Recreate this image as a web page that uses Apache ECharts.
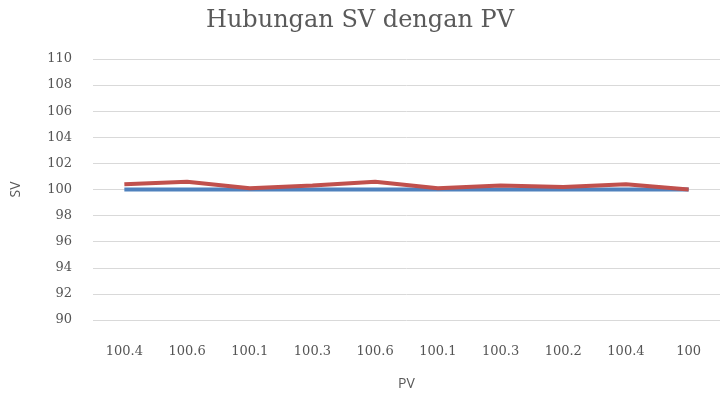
<!DOCTYPE html>
<html>
<head>
<meta charset="utf-8">
<script src="https://cdn.jsdelivr.net/npm/echarts@6/dist/echarts.min.js"></script>
<style>
  html, body { margin: 0; padding: 0; background: #fff; }
  #chart { width: 720px; height: 400px; }
</style>
</head>
<body>
<div id="chart"></div>
<script>
var pvLabels = ['100.4', '100.6', '100.1', '100.3', '100.6', '100.1', '100.3', '100.2', '100.4', '100'];
var svValues = [100, 100, 100, 100, 100, 100, 100, 100, 100, 100];
var pvValues = [100.4, 100.6, 100.1, 100.3, 100.6, 100.1, 100.3, 100.2, 100.4, 100];

var myChart = echarts.init(document.getElementById('chart'));

var option = {
    animation: false,
    title: {
        text: 'Hubungan SV dengan PV',
        left: 'center',
        top: 4,
        textStyle: {
            fontFamily: 'DejaVu Serif',
            fontWeight: 'normal',
            fontSize: 24,
            color: '#5a5a5a'
        }
    },
    grid: {
        left: 93,
        top: 59,
        width: 633,
        height: 261
    },
    xAxis: {
        type: 'category',
        data: pvLabels,
        name: 'PV',
        nameLocation: 'middle',
        nameGap: 57,
        nameTextStyle: { fontFamily: 'Open Sans', fontSize: 14, color: '#595959' },
        axisLine: { show: false },
        axisTick: { show: false },
        axisLabel: {
            margin: 25,
            fontFamily: 'DejaVu Serif',
            fontSize: 13,
            color: '#555555'
        }
    },
    yAxis: {
        type: 'value',
        min: 90,
        max: 110,
        interval: 2,
        name: 'SV',
        nameLocation: 'middle',
        nameGap: 70,
        nameTextStyle: { fontFamily: 'Open Sans', fontSize: 14, color: '#595959' },
        axisLine: { show: false },
        axisTick: { show: false },
        axisLabel: {
            margin: 21,
            fontFamily: 'DejaVu Serif',
            fontSize: 13,
            color: '#555555'
        },
        splitLine: { lineStyle: { color: '#d9d9d9', width: 1 } }
    },
    series: [
        {
            name: 'SV',
            type: 'line',
            data: svValues,
            symbol: 'none',
            lineStyle: { color: '#4f81bd', width: 4 }
        },
        {
            name: 'PV',
            type: 'line',
            data: pvValues,
            symbol: 'none',
            lineStyle: { color: '#c0504d', width: 4 }
        }
    ]
};

myChart.setOption(option);
</script>
</body>
</html>
